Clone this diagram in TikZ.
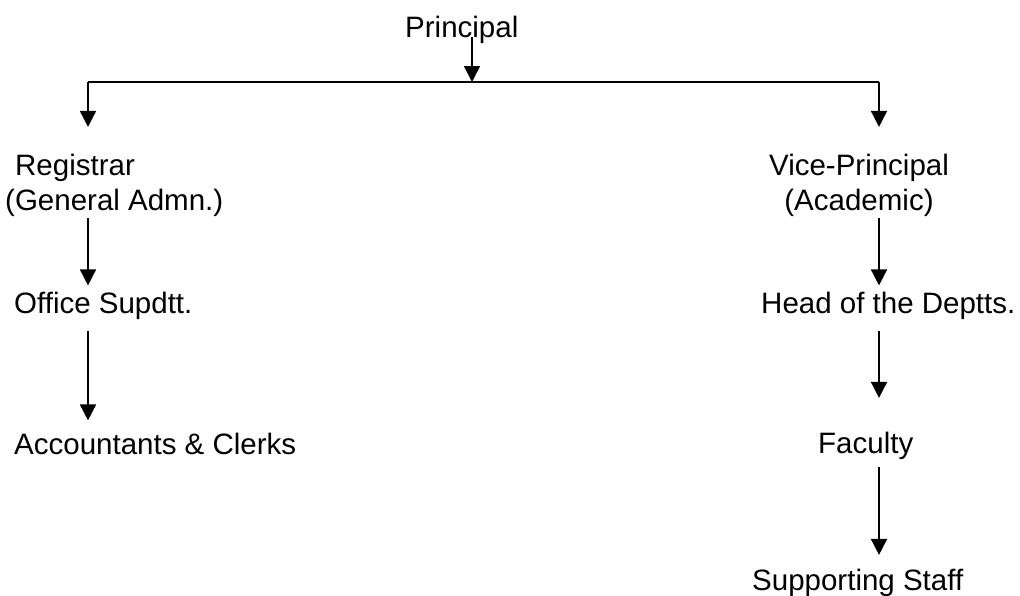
\documentclass[tikz,border=0pt]{standalone}
\usepackage{fontspec}
\setmainfont{Liberation Sans}
\usetikzlibrary{arrows.meta}

\begin{document}
\begin{tikzpicture}[x=1pt,y=-1pt]
\tikzstyle{main}=[inner sep=0pt, anchor=base west, font=\fontsize{29.5}{35}\selectfont]
\tikzstyle{connect}=[-{Triangle[width=16pt,length=16pt]}, line width=1.6pt]
\tikzstyle{bar}=[line width=1.6pt]
\useasboundingbox (0,0) rectangle (1020,595);
  \node[main] (principal) at (405,37) {Principal};
  \node[main, align=left] (registrar) at (5,210) {\hspace{10pt}Registrar\\(General Admn.)};
  \node[main, align=center, anchor=base] (vice) at (859,210) {Vice-Principal\\(Academic)};
  \node[main] (office) at (14,313) {Office Supdtt.};
  \node[main] (accounts) at (14,454) {Accountants \& Clerks};
  \node[main] (heads) at (761,313) {Head of the Deptts.};
  \node[main] (faculty) at (818,453) {Faculty};
  \node[main] (support) at (752,590) {Supporting Staff};
  \coordinate (mid) at (472,82);
  \coordinate (lbar) at (88,82);
  \coordinate (rbar) at (879,82);
  \draw[connect] (principal.base -| mid) -- (mid);
  \draw[bar] (lbar) -- (rbar);
  \draw[connect] (lbar) -- ([yshift=26.5pt]registrar.north -| lbar);
  \draw[connect] (rbar) -- ([yshift=26.5pt]vice.north -| rbar);
  \draw[connect] ([yshift=-2pt]registrar.south -| lbar) -- ([yshift=6pt]office.north -| lbar);
  \draw[connect] ([yshift=-12pt]office.south -| lbar) -- ([yshift=12pt]accounts.north -| lbar);
  \draw[connect] ([yshift=-2pt]vice.south -| rbar) -- ([yshift=6pt]heads.north -| rbar);
  \draw[connect] ([yshift=-12pt]heads.south -| rbar) -- ([yshift=33.5pt]faculty.north -| rbar);
  \draw[connect] ([yshift=-8pt]faculty.south -| rbar) -- ([yshift=13.5pt]support.north -| rbar);
\end{tikzpicture}
\end{document}
